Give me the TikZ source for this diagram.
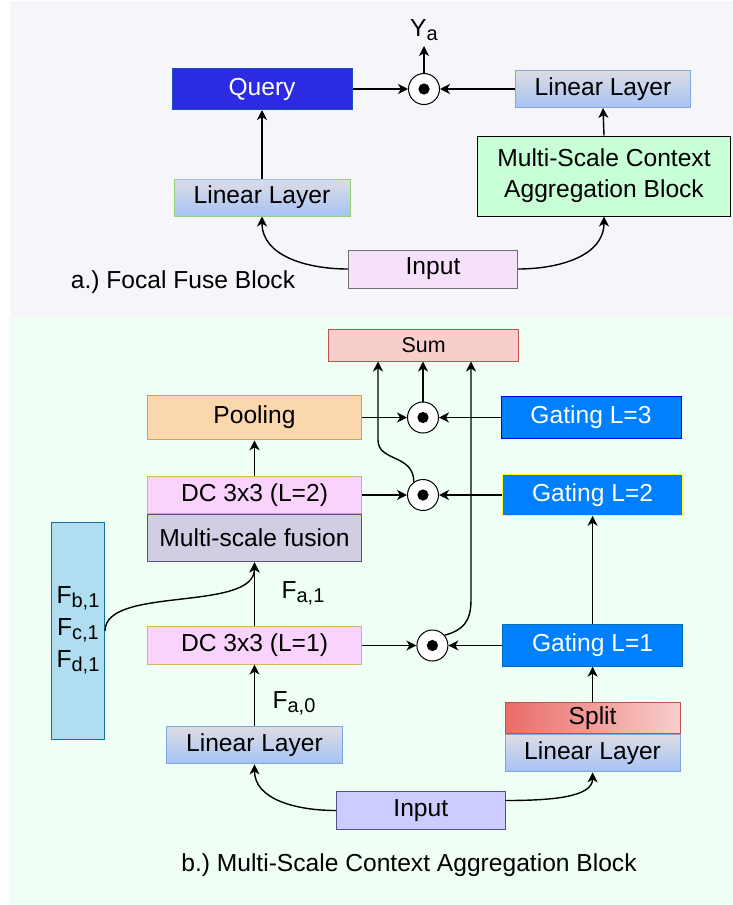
\documentclass[tikz,border=0pt]{standalone}
\usepackage{fontspec}
\setmainfont{Liberation Sans}
\usetikzlibrary{arrows.meta}
\frenchspacing
\definecolor{topbg}{HTML}{F5F5FA}
\definecolor{botbg}{HTML}{F0FFF6}
\definecolor{queryfill}{HTML}{2B2BE3}
\definecolor{queryedge}{HTML}{2050C0}
\definecolor{lintop}{HTML}{DDDDE2}
\definecolor{linbot}{HTML}{A6C3F7}
\definecolor{linedge}{HTML}{7EA6E0}
\definecolor{greenedge}{HTML}{97D077}
\definecolor{mscafill}{HTML}{C8FFD7}
\definecolor{inAfill}{HTML}{F5E1FB}
\definecolor{grayedge}{HTML}{707070}
\definecolor{sumfill}{HTML}{F8CECC}
\definecolor{redge}{HTML}{B85450}
\definecolor{poolfill}{HTML}{FAD7AC}
\definecolor{pooledge}{HTML}{D6A04A}
\definecolor{dcfill}{HTML}{F9D3FB}
\definecolor{dcedge}{HTML}{D6B656}
\definecolor{fusefill}{HTML}{D0CEE2}
\definecolor{purpedge}{HTML}{56517E}
\definecolor{gatefill}{HTML}{007FFF}
\definecolor{gateedgeA}{HTML}{0000EE}
\definecolor{gateedgeB}{HTML}{FFFF33}
\definecolor{gateedgeC}{HTML}{006EAF}
\definecolor{fboxfill}{HTML}{B1DDF0}
\definecolor{fboxedge}{HTML}{10739E}
\definecolor{splitL}{HTML}{EA6B66}
\definecolor{splitR}{HTML}{F8CECC}
\definecolor{inBfill}{HTML}{CCCCFF}
\newcommand{\subs}[1]{\raisebox{-0.3ex}{\fontsize{10}{10}\selectfont #1}}
\tikzset{
  blk/.style={draw, line width=0.5pt, inner sep=0pt, align=center, font=\fontsize{12.3}{15.5}\selectfont},
  lin/.style={blk, top color=lintop, bottom color=linbot, draw=linedge},
  gate/.style={blk, fill=gatefill, text=white, minimum width=90pt},
  prod/.style={circle, draw, line width=0.5pt, fill=white, minimum size=15.5pt, inner sep=0pt,
    path picture={\fill[black] (path picture bounding box.center) circle (2.8pt);}},
  arr/.style={-{Stealth[length=5pt, width=5pt, inset=1.5pt]}, line width=0.7pt},
  lab/.style={font=\fontsize{12.3}{16}\selectfont, inner sep=0pt},
}

\begin{document}
\begin{tikzpicture}[x=0.5pt, y=-0.5pt]
\useasboundingbox (0,0) rectangle (733,905);
\fill[topbg] (10,1) rectangle (733,317);
\fill[botbg] (9,317) rectangle (733,905);

% a.) focal fuse block
\node[blk, fill=queryfill, draw=queryedge, text=white, minimum width=90pt, minimum height=20.5pt] (query) at (262,89) {Query};
\node[lin, minimum width=87.5pt, minimum height=18.5pt] (linT) at (603,89) {Linear Layer};
\node[prod] (odotA) at (424,89) {};
\node[lab, inner sep=2.5pt, anchor=south] (ya) at (424,46) {Y\subs{a}};
\node[lin, draw=greenedge, minimum width=88pt, minimum height=18.5pt] (linA) at (262,197.5) {Linear Layer};
\node[blk, fill=mscafill, minimum width=126.5pt, minimum height=40pt] (msca) at (604,176) {Multi-Scale Context\\Aggregation Block};
\node[blk, fill=inAfill, draw=grayedge, minimum width=84.5pt, minimum height=19pt] (inA) at (433,269) {Input};
\node[lab] (capA) at (183,282) {a.) Focal Fuse Block};

\draw[arr] (query) -- (odotA);
\draw[arr] (linT) -- (odotA);
\draw[arr] (odotA) -- (ya);
\draw[arr] (linA) -- (query);
\draw[arr] (msca.north) -- (linT.south);
\draw[arr] (inA.west) .. controls +(-40,0) and +(0,40) .. (linA.south);
\draw[arr] (inA.east) .. controls +(40,0) and +(0,40) .. (msca.south);

% b.) multi-scale context aggregation block
\node[blk, fill=sumfill, draw=redge, minimum width=95pt, minimum height=16pt, font=\fontsize{10.7}{13}\selectfont] (sum) at (423.6,345) {Sum};
\node[blk, fill=poolfill, draw=pooledge, minimum width=106.8pt, minimum height=22.3pt] (pool) at (254.5,417.5) {Pooling};
\node[prod] (odot3) at (423,417.5) {};
\node[gate, draw=gateedgeA, minimum height=20.6pt] (gate3) at (591,417.5) {Gating L=3};
\node[blk, fill=dcfill, draw=dcedge, minimum width=106.8pt, minimum height=18.3pt] (dc2) at (254.5,495) {DC 3x3 (L=2)};
\node[blk, fill=fusefill, draw=purpedge, minimum width=106.8pt, minimum height=23.8pt, anchor=north] (fuse) at (dc2.south) {Multi-scale fusion};
\node[prod] (odot2) at (423,495) {};
\node[gate, draw=gateedgeB, minimum height=20.3pt] (gate2) at (592.6,495) {Gating L=2};
\node[blk, fill=fboxfill, draw=fboxedge, minimum width=26.6pt, minimum height=108.3pt, font=\fontsize{12.3}{16}\selectfont] (fbox) at (78,630.7) {F\subs{b,1}\\F\subs{c,1}\\F\subs{d,1}};
\node[blk, fill=dcfill, draw=dcedge, minimum width=106.8pt, minimum height=18.6pt] (dc1) at (254.5,645.5) {DC 3x3 (L=1)};
\node[prod] (odot1) at (432.4,645.5) {};
\node[gate, draw=gateedgeC, minimum height=20.7pt] (gate1) at (592.6,645.5) {Gating L=1};
\node[lab] (fa1) at (303,593) {F\subs{a,1}};
\node[lab] (fa0) at (294,703) {F\subs{a,0}};
\node[lin, minimum width=87.6pt, minimum height=18.6pt] (linB) at (254.5,745.3) {Linear Layer};
\node[blk, left color=splitL, right color=splitR, draw=redge, minimum width=87.6pt, minimum height=15.3pt] (split) at (592.6,718) {Split};
\node[lin, minimum width=87.6pt, minimum height=18.8pt, anchor=north] (linC) at (split.south) {Linear Layer};
\node[blk, fill=inBfill, draw=purpedge, minimum width=84.2pt, minimum height=18.8pt] (inB) at (420.8,810.5) {Input};
\node[lab] (capB) at (409,865) {b.) Multi-Scale Context Aggregation Block};

\coordinate (s2) at ([xshift=-22.8pt]sum.south);
\coordinate (s1) at ([xshift=23.7pt]sum.south);

\draw[arr] (pool) -- (odot3);
\draw[arr] (gate3) -- (odot3);
\draw[arr] (odot3) -- (odot3 |- sum.south);
\draw[arr] (dc2) -- (pool);
\draw[arr] (dc2) -- (odot2);
\draw[arr] (gate2) -- (odot2);
\draw[arr] (odot2.125) .. controls +(0,-28) and +(0,22) .. (s2 |- 0,440) -- (s2);
\draw[arr] (dc1) -- (fuse);
\draw[arr] (fbox.east) .. controls +(0,-45) and +(0,50) .. (fuse.south);
\draw[arr] (dc1) -- (odot1);
\draw[arr] (gate1) -- (odot1);
\draw[arr] (odot1.40) .. controls +(18,-5) and +(0,22) .. (s1 |- 0,600) -- (s1);
\draw[arr] (gate1) -- (gate2);
\draw[arr] (split) -- (gate1);
\draw[arr] (linB) -- (dc1);
\draw[arr] (inB.west) .. controls +(-40,0) and +(0,35) .. (linB.south);
\draw[arr] ([yshift=5pt]inB.east) .. controls +(45,0) and +(0,25) .. (linC.south);
\end{tikzpicture}
\end{document}
